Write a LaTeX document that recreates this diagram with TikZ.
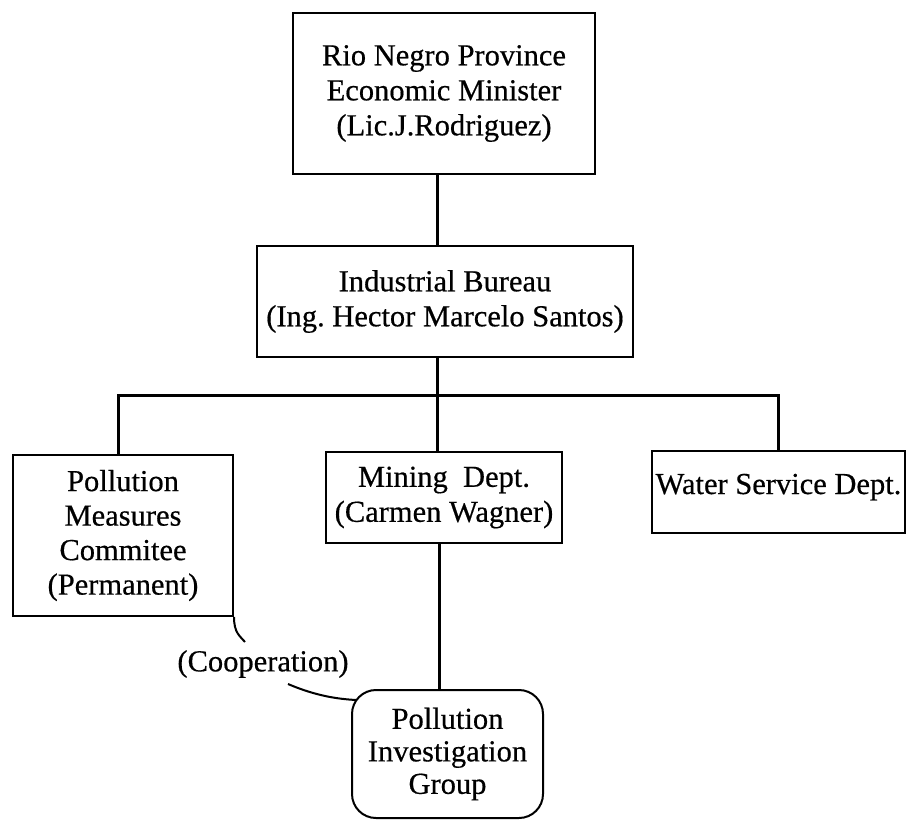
\documentclass[tikz,border=0pt]{standalone}
\usepackage{fontspec}
\setmainfont{Liberation Serif}[FakeBold=0.5]
\usetikzlibrary{calc}
\begin{document}
\begin{tikzpicture}[x=1pt,y=-1pt,
  box/.style={draw,line width=2pt,inner sep=0pt,align=center,
    font=\fontsize{30.5}{35}\selectfont},
  link/.style={line width=3pt},
  coopline/.style={line width=2pt},
  lbl/.style={inner sep=0pt,font=\fontsize{30.5}{35}\selectfont}]
\useasboundingbox (0,0) rectangle (907,819);
% boxes
\node[box,minimum width=302pt,minimum height=161pt] (top) at (444,93.5)
  {Rio Negro Province\\Economic Minister\\(Lic.J.Rodriguez)};
\node[box,minimum width=376pt,minimum height=111pt] (bur) at (445,301.5)
  {Industrial Bureau\\(Ing.\ Hector Marcelo Santos)};
\node[box,minimum width=220pt,minimum height=161pt,
  font=\fontsize{30.5}{34.5}\selectfont] (left) at (123,535.5)
  {Pollution\\Measures\\Commitee\\(Permanent)};
\node[box,minimum width=236pt,minimum height=91pt] (mid) at (444,497.5)
  {Mining~ Dept.\\(Carmen Wagner)};
\node[box,minimum width=253pt,minimum height=82pt,
  text height=24pt,text depth=20pt] (water) at (778.5,492)
  {Water Service Dept.};
\node[box,rounded corners=24pt,minimum width=191pt,minimum height=128pt,
  font=\fontsize{30.5}{32.5}\selectfont] (pig) at (447.5,754)
  {Pollution\\Investigation\\Group};
\node[lbl] (coop) at (263,664) {(Cooperation)};
% connectors
\coordinate (trunk) at (437,0);
\coordinate (lb) at (118,395);
\coordinate (rb) at (778,395);
\draw[link] (top.south -| trunk) -- (bur.north -| trunk);
\draw[link] (bur.south -| trunk) -- (trunk |- mid.north);
\draw[link] (lb |- left.north) -- (lb) -- (rb) -- (rb |- water.north);
\draw[link] ($(mid.south -| trunk)+(2,0)$) -- ($(pig.north -| trunk)+(2,0)$);
% cooperation link
\coordinate (c1) at (245,642);
\coordinate (c2) at (288,684);
\coordinate (pigc) at ($(pig.north west)+(5,11)$);
\draw[coopline] (left.south east) .. controls +(0,16) and +(-5,-6) .. (c1);
\draw[coopline] (c2) .. controls +(28,12) and +(-18,-1) .. (pigc);
\end{tikzpicture}
\end{document}
